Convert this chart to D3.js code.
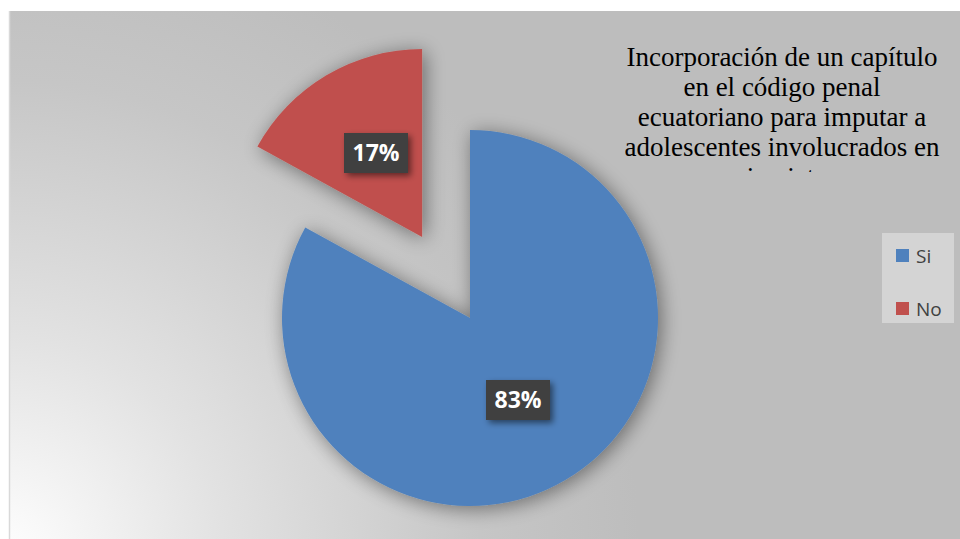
<!DOCTYPE html>
<html lang="es">
<head>
<meta charset="UTF-8">
<title>Sicariato</title>
<script src="https://d3js.org/d3.v7.min.js"></script>
<style>
  body { margin: 0; background: #fff; }
  svg { display: block; }
</style>
</head>
<body>
<div id="chart"></div>
<script>
  // data
  const categories = ["Si", "No"];
  const values = [83, 17];
  const colors = ["#4F81BD", "#C0504D"];
  const titleLines = [
    "Incorporación de un capítulo",
    "en el código penal",
    "ecuatoriano para imputar a",
    "adolescentes involucrados en",
    "sicariato"
  ];

  const W = 960, H = 539;
  const svg = d3.select("#chart").append("svg")
    .attr("width", W).attr("height", H);

  const defs = svg.append("defs");

  // background gradient: light at bottom-left, gray elsewhere
  const bg = defs.append("radialGradient")
    .attr("id", "bg")
    .attr("gradientUnits", "userSpaceOnUse")
    .attr("cx", 0).attr("cy", 560).attr("r", 640);
  bg.append("stop").attr("offset", "0%").attr("stop-color", "#ffffff");
  bg.append("stop").attr("offset", "35%").attr("stop-color", "#e2e2e2");
  bg.append("stop").attr("offset", "75%").attr("stop-color", "#c6c6c6");
  bg.append("stop").attr("offset", "100%").attr("stop-color", "#bdbdbd");

  const shadow = defs.append("filter").attr("id", "shadow")
    .attr("x", "-30%").attr("y", "-30%").attr("width", "160%").attr("height", "160%");
  shadow.append("feGaussianBlur").attr("in", "SourceAlpha").attr("stdDeviation", 10);
  shadow.append("feOffset").attr("dx", 3).attr("dy", 3).attr("result", "b");
  shadow.append("feComponentTransfer").attr("in", "b").attr("result", "s")
    .append("feFuncA").attr("type", "linear").attr("slope", 0.45);
  const m = shadow.append("feMerge");
  m.append("feMergeNode").attr("in", "s");
  m.append("feMergeNode").attr("in", "SourceGraphic");

  const lblShadow = defs.append("filter").attr("id", "lblShadow")
    .attr("x", "-30%").attr("y", "-30%").attr("width", "160%").attr("height", "160%");
  lblShadow.append("feGaussianBlur").attr("in", "SourceAlpha").attr("stdDeviation", 3);
  lblShadow.append("feOffset").attr("dx", 3).attr("dy", 3).attr("result", "b");
  lblShadow.append("feComponentTransfer").attr("in", "b").attr("result", "s")
    .append("feFuncA").attr("type", "linear").attr("slope", 0.5);
  const m2 = lblShadow.append("feMerge");
  m2.append("feMergeNode").attr("in", "s");
  m2.append("feMergeNode").attr("in", "SourceGraphic");

  defs.append("clipPath").attr("id", "titleClip")
    .append("rect").attr("x", 600).attr("y", 30).attr("width", 360).attr("height", 142);

  // chart area
  svg.append("rect")
    .attr("x", 9).attr("y", 11).attr("width", W - 9).attr("height", H - 11)
    .attr("fill", "url(#bg)");
  svg.append("line")
    .attr("x1", 9.5).attr("x2", 9.5).attr("y1", 11).attr("y2", H)
    .attr("stroke", "#d9d9d9").attr("stroke-width", 1.5);

  // pie
  const cx = 470, cy = 318, r = 188;
  const pie = d3.pie().sort(null).value(d => d)(values);
  const arc = d3.arc().innerRadius(0).outerRadius(r);
  const explode = [0, 94];

  const g = svg.append("g").attr("transform", `translate(${cx},${cy})`);

  const slices = g.selectAll("g.slice").data(pie).join("g")
    .attr("class", "slice")
    .attr("transform", (d, i) => {
      const a = (d.startAngle + d.endAngle) / 2;
      return `translate(${Math.sin(a) * explode[i]},${-Math.cos(a) * explode[i]})`;
    });

  slices.append("path")
    .attr("d", arc)
    .attr("fill", (d, i) => colors[i])
    .attr("filter", "url(#shadow)");

  // data labels
  const labelPos = [[48, 82], [-94, -165]];
  slices.each(function (d, i) {
    const a = (d.startAngle + d.endAngle) / 2;
    const ox = Math.sin(a) * explode[i], oy = -Math.cos(a) * explode[i];
    const lx = labelPos[i][0] - ox, ly = labelPos[i][1] - oy;
    const lg = d3.select(this).append("g").attr("transform", `translate(${lx},${ly})`);
    lg.append("rect")
      .attr("x", -32).attr("y", -20).attr("width", 64).attr("height", 40)
      .attr("fill", "#404040")
      .attr("filter", "url(#lblShadow)");
    lg.append("text")
      .attr("text-anchor", "middle").attr("dy", "0.36em")
      .attr("font-family", "'Open Sans', 'DejaVu Sans', sans-serif")
      .attr("font-weight", "bold").attr("font-size", 23)
      .attr("fill", "#ffffff")
      .text(values[i] + "%");
  });

  // title
  svg.append("g").attr("clip-path", "url(#titleClip)")
    .selectAll("text").data(titleLines).join("text")
    .attr("x", 782).attr("y", (d, i) => 66 + i * 30)
    .attr("text-anchor", "middle")
    .attr("font-family", "'Liberation Serif', 'Times New Roman', serif")
    .attr("font-size", 27).attr("fill", "#000")
    .text(d => d);

  // legend
  const lg = svg.append("g").attr("transform", "translate(882,233)");
  lg.append("rect").attr("width", 72).attr("height", 90).attr("fill", "#d4d4d4");
  const items = lg.selectAll("g.item").data(categories).join("g")
    .attr("class", "item")
    .attr("transform", (d, i) => `translate(14,${16 + i * 53})`);
  items.append("rect").attr("width", 13).attr("height", 13)
    .attr("fill", (d, i) => colors[i]);
  items.append("text")
    .attr("x", 20).attr("y", 7).attr("dy", "0.36em")
    .attr("font-family", "'Open Sans', 'Liberation Sans', sans-serif")
    .attr("font-size", 19).attr("fill", "#404040")
    .text(d => d);
</script>
</body>
</html>
